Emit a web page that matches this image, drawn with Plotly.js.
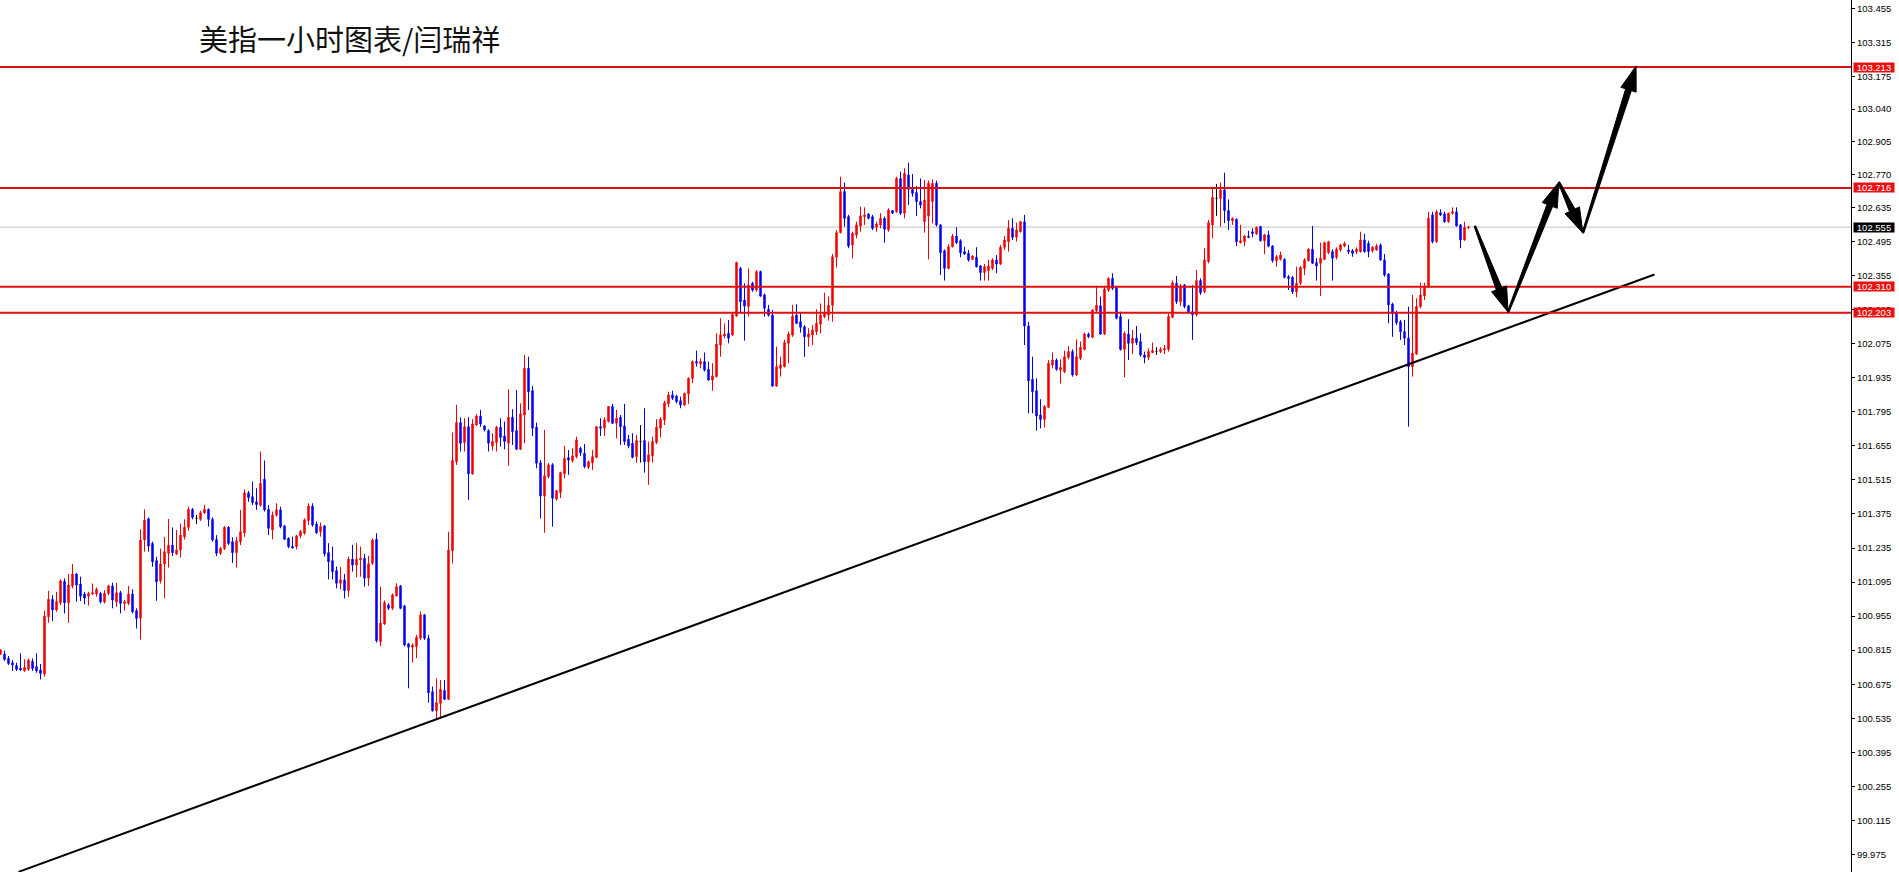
<!DOCTYPE html>
<html><head><meta charset="utf-8">
<script src="https://cdn.plot.ly/plotly-3.0.1.min.js"></script>
<style>html,body{margin:0;padding:0;background:#fff;overflow:hidden}#chart{width:1899px;height:872px}</style>
</head><body><div id="chart"></div>
<script>
const openP = [
100.799,100.799,100.781,100.763,100.752,100.741,100.730,100.736,100.769,100.747,
100.733,100.717,100.952,101.024,100.980,101.010,101.098,101.010,101.079,101.128,
101.087,101.046,101.037,101.046,101.046,101.048,101.013,101.048,101.079,101.013,
101.051,101.007,101.007,101.046,100.977,100.946,101.268,101.355,101.254,101.183,
101.100,101.169,101.213,101.247,101.210,101.227,101.281,101.320,101.394,101.357,
101.353,101.380,101.394,101.353,101.270,101.213,101.233,101.320,101.261,101.216,
101.261,101.298,101.462,101.446,101.425,101.411,101.518,101.394,101.309,101.370,
101.392,101.326,101.275,101.241,101.241,101.285,101.296,101.348,101.408,101.334,
101.303,101.326,101.216,101.183,101.142,101.090,101.104,101.060,101.189,101.165,
101.186,101.193,101.111,101.172,101.271,100.850,100.923,101.001,100.987,101.038,
101.079,100.997,100.841,100.827,100.830,100.864,100.960,100.864,100.644,100.566,
100.596,100.649,100.613,101.224,101.590,101.751,101.669,101.734,101.540,101.741,
101.778,101.737,101.718,101.655,101.669,101.732,101.696,101.666,101.773,101.718,
101.641,101.782,101.974,101.882,101.732,101.586,101.449,101.529,101.577,101.436,
101.463,101.540,101.607,101.595,101.611,101.645,101.625,101.567,101.586,101.608,
101.734,101.728,101.755,101.817,101.748,101.773,101.737,101.682,101.666,101.611,
101.673,101.677,101.590,101.614,101.669,101.728,101.762,101.828,101.865,101.860,
101.841,101.823,101.869,101.933,102.002,101.992,102.002,101.970,101.926,101.940,
102.070,102.107,102.118,102.111,102.189,102.385,102.255,102.228,102.324,102.296,
102.372,102.276,102.217,102.193,101.901,101.974,101.981,102.077,102.111,102.193,
102.166,102.145,102.102,102.111,102.125,102.156,102.187,102.193,102.234,102.431,
102.532,102.701,102.598,102.481,102.522,102.559,102.598,102.609,102.598,102.554,
102.564,102.591,102.543,102.623,102.618,102.755,102.612,102.769,102.710,102.697,
102.660,102.577,102.600,102.660,102.735,102.564,102.458,102.385,102.474,102.518,
102.499,102.454,102.447,102.422,102.431,102.395,102.368,102.376,102.385,102.420,
102.403,102.472,102.495,102.550,102.513,102.536,102.577,102.148,101.929,101.882,
101.782,101.764,101.814,101.988,102.008,101.967,101.960,102.019,102.043,101.947,
102.015,102.052,102.115,102.102,102.211,102.231,102.115,102.296,102.344,102.307,
102.187,102.052,102.115,102.077,102.098,102.084,102.029,102.019,102.039,102.043,
102.043,102.050,102.052,102.184,102.324,102.248,102.317,102.231,102.207,102.194,
102.335,102.289,102.413,102.564,102.673,102.673,102.708,102.623,102.582,102.587,
102.491,102.495,102.518,102.536,102.527,102.557,102.499,102.523,102.477,102.417,
102.422,102.422,102.351,102.348,102.289,102.324,102.385,102.417,102.464,102.409,
102.406,102.422,102.450,102.454,102.431,102.461,102.477,102.461,102.458,102.454,
102.454,102.502,102.488,102.458,102.461,102.481,102.420,102.362,102.239,102.203,
102.166,102.125,102.098,101.981,102.033,102.228,102.272,102.310,102.605,102.495,
102.614,102.609,102.577,102.612,102.618,102.564,102.502,102.553
];
const highP = [
100.818,100.813,100.791,100.774,100.763,100.802,100.777,100.781,100.781,100.802,
100.758,100.977,101.059,101.041,101.055,101.106,101.110,101.128,101.169,101.133,
101.117,101.055,101.055,101.089,101.072,101.055,101.062,101.084,101.092,101.092,
101.059,101.021,101.079,101.065,100.987,101.312,101.394,101.361,101.261,101.199,
101.233,101.281,101.355,101.320,101.309,101.336,101.353,101.405,101.399,101.371,
101.388,101.413,101.398,101.361,101.288,101.240,101.325,101.325,101.279,101.281,
101.391,101.476,101.470,101.508,101.481,101.632,101.595,101.412,101.385,101.419,
101.405,101.330,101.279,101.282,101.289,101.309,101.357,101.419,101.419,101.344,
101.340,101.330,101.255,101.241,101.159,101.156,101.128,101.200,101.248,101.255,
101.241,101.211,101.203,101.275,101.296,101.076,101.019,101.008,101.049,101.090,
101.083,101.001,100.843,100.843,100.878,100.974,100.964,100.878,100.665,100.699,
100.692,100.692,101.302,101.710,101.824,101.773,101.769,101.773,101.765,101.787,
101.803,101.741,101.723,101.707,101.737,101.769,101.755,101.888,101.806,101.885,
101.830,102.029,102.022,101.902,101.751,101.597,101.721,101.584,101.584,101.474,
101.549,101.655,101.638,101.645,101.693,101.652,101.663,101.595,101.638,101.737,
101.769,101.773,101.819,101.828,101.803,101.782,101.828,101.700,101.707,101.700,
101.741,101.810,101.673,101.693,101.765,101.773,101.841,101.878,101.882,101.865,
101.858,101.874,101.937,102.006,102.047,102.015,102.039,102.002,101.995,102.118,
102.180,102.159,102.173,102.200,102.413,102.392,102.324,102.385,102.330,102.378,
102.376,102.282,102.235,102.214,102.063,102.022,102.091,102.125,102.235,102.238,
102.200,102.152,102.139,102.152,102.217,102.241,102.285,102.269,102.444,102.543,
102.762,102.738,102.605,102.536,102.577,102.639,102.636,102.612,102.605,102.577,
102.612,102.598,102.632,102.625,102.762,102.783,102.797,102.820,102.773,102.724,
102.755,102.749,102.746,102.751,102.746,102.568,102.463,102.485,102.527,102.554,
102.505,102.474,102.461,102.440,102.472,102.399,102.403,102.420,102.427,102.440,
102.481,102.518,102.584,102.591,102.573,102.580,102.605,102.166,102.022,101.933,
101.847,101.823,102.008,102.039,102.015,102.011,102.047,102.066,102.052,102.093,
102.084,102.121,102.121,102.217,102.313,102.269,102.313,102.348,102.365,102.313,
102.207,102.125,102.176,102.132,102.148,102.118,102.043,102.056,102.080,102.061,
102.061,102.070,102.198,102.335,102.354,102.321,102.321,102.235,102.317,102.379,
102.344,102.468,102.584,102.721,102.732,102.738,102.779,102.669,102.595,102.591,
102.564,102.523,102.540,102.550,102.557,102.560,102.527,102.540,102.481,102.440,
102.454,102.427,102.358,102.354,102.392,102.395,102.427,102.468,102.560,102.427,
102.491,102.495,102.499,102.464,102.472,102.486,102.495,102.481,102.464,102.472,
102.536,102.527,102.499,102.477,102.486,102.488,102.444,102.365,102.244,102.211,
102.173,102.173,102.228,102.276,102.262,102.326,102.326,102.618,102.618,102.625,
102.628,102.618,102.614,102.636,102.636,102.568,102.577,102.557
];
const lowP = [
100.795,100.771,100.754,100.729,100.729,100.729,100.726,100.730,100.729,100.722,
100.695,100.706,100.928,100.935,100.973,101.000,100.966,100.928,101.069,101.014,
101.017,101.004,100.998,101.041,101.035,101.007,101.007,101.041,100.987,100.993,
100.966,100.977,101.000,100.966,100.904,100.859,101.220,101.220,101.158,101.018,
101.089,101.028,101.155,101.202,101.206,101.196,101.270,101.306,101.353,101.334,
101.347,101.375,101.323,101.261,101.202,101.206,101.227,101.247,101.174,101.155,
101.247,101.281,101.425,101.412,101.392,101.405,101.385,101.289,101.271,101.364,
101.316,101.268,101.234,101.234,101.230,101.275,101.289,101.330,101.323,101.293,
101.282,101.200,101.106,101.106,101.069,101.065,101.028,101.035,101.138,101.115,
101.117,101.076,101.079,101.165,100.846,100.832,100.919,100.980,100.980,101.035,
100.983,100.830,100.658,100.764,100.782,100.857,100.857,100.599,100.562,100.528,
100.535,100.610,100.610,101.172,101.577,101.632,101.632,101.433,101.536,101.737,
101.734,101.714,101.632,101.636,101.632,101.652,101.641,101.573,101.659,101.638,
101.638,101.666,101.803,101.696,101.563,101.357,101.298,101.522,101.323,101.430,
101.440,101.522,101.536,101.586,101.604,101.614,101.563,101.559,101.556,101.604,
101.696,101.696,101.751,101.745,101.686,101.659,101.659,101.645,101.604,101.586,
101.586,101.545,101.495,101.586,101.663,101.690,101.741,101.814,101.844,101.830,
101.810,101.819,101.828,101.913,101.981,101.974,101.961,101.924,101.882,101.937,
102.022,102.098,102.077,102.107,102.187,102.200,102.088,102.187,102.289,102.289,
102.269,102.187,102.187,101.899,101.899,101.940,101.978,101.995,102.104,102.156,
102.121,102.022,102.063,102.070,102.111,102.118,102.180,102.170,102.166,102.389,
102.529,102.557,102.468,102.426,102.509,102.536,102.564,102.587,102.543,102.536,
102.550,102.491,102.536,102.609,102.614,102.605,102.591,102.646,102.680,102.601,
102.632,102.532,102.422,102.570,102.557,102.358,102.335,102.381,102.472,102.485,
102.431,102.440,102.413,102.420,102.389,102.335,102.335,102.335,102.379,102.365,
102.399,102.461,102.454,102.502,102.495,102.532,102.070,101.789,101.789,101.718,
101.727,101.731,101.810,101.974,101.964,101.912,101.954,102.011,101.940,101.943,
102.008,102.047,102.098,102.098,102.203,102.111,102.111,102.289,102.296,102.176,
102.047,101.937,102.008,102.033,102.070,102.022,101.995,102.008,102.036,102.029,
102.036,102.033,102.043,102.180,102.239,102.231,102.221,102.198,102.091,102.187,
102.276,102.283,102.406,102.509,102.601,102.557,102.571,102.543,102.564,102.477,
102.488,102.477,102.509,102.513,102.523,102.495,102.444,102.472,102.409,102.392,
102.417,102.344,102.296,102.280,102.266,102.317,102.358,102.413,102.403,102.335,
102.272,102.420,102.444,102.335,102.422,102.454,102.472,102.444,102.433,102.444,
102.450,102.450,102.431,102.450,102.458,102.417,102.351,102.159,102.104,102.152,
102.091,102.070,101.734,101.940,102.029,102.221,102.255,102.303,102.488,102.491,
102.601,102.573,102.573,102.605,102.557,102.468,102.499,102.546
];
const closeP = [
100.815,100.777,100.760,100.754,100.736,100.734,100.744,100.774,100.740,100.730,
100.719,100.955,101.024,100.980,101.015,101.100,101.010,101.083,101.128,101.083,
101.037,101.029,101.048,101.051,101.065,101.014,101.048,101.079,101.021,101.051,
101.007,101.014,101.046,100.973,100.946,101.268,101.350,101.243,101.179,101.096,
101.169,101.220,101.247,101.216,101.227,101.288,101.320,101.394,101.361,101.357,
101.380,101.394,101.353,101.268,101.213,101.233,101.320,101.254,101.216,101.265,
101.302,101.462,101.443,101.422,101.414,101.501,101.392,101.316,101.371,101.392,
101.323,101.271,101.241,101.235,101.285,101.303,101.351,101.408,101.330,101.298,
101.323,101.211,101.179,101.138,101.090,101.104,101.060,101.189,101.165,101.189,
101.193,101.111,101.170,101.268,100.854,100.926,101.011,100.987,101.042,101.076,
100.987,100.836,100.827,100.836,100.868,100.960,100.864,100.640,100.566,100.599,
100.654,100.613,101.227,101.595,101.751,101.666,101.734,101.540,101.745,101.778,
101.745,101.721,101.666,101.673,101.732,101.690,101.673,101.773,101.714,101.641,
101.787,101.974,101.878,101.728,101.584,101.449,101.532,101.577,101.440,101.471,
101.545,101.604,101.597,101.614,101.680,101.627,101.570,101.590,101.611,101.734,
101.728,101.762,101.817,101.748,101.769,101.734,101.673,101.655,101.608,101.677,
101.673,101.590,101.618,101.673,101.732,101.765,101.833,101.865,101.851,101.837,
101.823,101.871,101.933,102.002,101.995,102.002,101.967,101.926,101.943,102.074,
102.111,102.115,102.098,102.196,102.409,102.248,102.230,102.317,102.296,102.372,
102.271,102.221,102.193,101.901,101.981,101.988,102.080,102.115,102.189,102.159,
102.143,102.104,102.115,102.132,102.159,102.193,102.200,102.234,102.433,102.532,
102.701,102.591,102.477,102.529,102.564,102.601,102.605,102.591,102.550,102.568,
102.591,102.546,102.625,102.612,102.755,102.612,102.776,102.710,102.694,102.660,
102.646,102.666,102.735,102.735,102.564,102.450,102.385,102.474,102.518,102.491,
102.450,102.444,102.420,102.436,102.392,102.368,102.392,102.395,102.420,102.403,
102.472,102.502,102.550,102.513,102.543,102.577,102.148,101.923,101.878,101.778,
101.764,101.817,101.995,102.008,101.970,101.978,102.022,102.043,101.947,102.022,
102.060,102.115,102.104,102.214,102.234,102.115,102.299,102.344,102.303,102.180,
102.052,102.118,102.077,102.098,102.080,102.029,102.019,102.043,102.047,102.043,
102.052,102.056,102.187,102.326,102.248,102.313,102.228,102.207,102.194,102.335,
102.285,102.420,102.573,102.677,102.673,102.708,102.623,102.582,102.591,102.495,
102.499,102.518,102.513,102.529,102.554,102.499,102.523,102.477,102.417,102.433,
102.440,102.348,102.344,102.289,102.324,102.389,102.420,102.464,102.406,102.395,
102.427,102.491,102.495,102.427,102.464,102.481,102.488,102.454,102.447,102.464,
102.502,102.454,102.454,102.472,102.477,102.420,102.358,102.235,102.198,102.162,
102.125,102.098,101.981,102.036,102.228,102.276,102.313,102.591,102.495,102.618,
102.605,102.577,102.612,102.618,102.560,102.502,102.554,102.556
];
const levelLines = [103.213, 102.716, 102.310, 102.203];
const levelLabels = ['103.213', '102.716', '102.310', '102.203'];
const currentPrice = 102.555;
const currentLabel = '102.555';
const tickLabels = ['103.455','103.315','103.175','103.040','102.905','102.770','102.635','102.495','102.355','102.215','102.075','101.935','101.795','101.655','101.515','101.375','101.235','101.095','100.955','100.815','100.675','100.535','100.395','100.255','100.115','99.975'];
const trendX = [4.5, 413.5];
const trendY = [99.903, 102.360];
const arrowX = [368.6, 376.9, 389.6, 395.6, 408.9];
const arrowY = [102.559, 102.205, 102.740, 102.531, 103.218];
const titleText = '美指一小时图表/闫瑞祥';

const W = 1899, H = 872, M = {l: 0, r: 48, t: 0, b: 0};
const PW = W - M.l - M.r, PH = H - M.t - M.b;
const XR = [-0.125, (PW - 0.5) / 4];
const YR = [99.9025, 103.489];

const idx = openP.map((_, i) => i);
const isDoji = i => openP[i] === closeP[i];
const nd = idx.filter(i => !isDoji(i));
const dj = idx.filter(i => isDoji(i));
const pick = (arr, ii) => ii.map(i => arr[i]);

const traces = [{
  type: 'candlestick', x: nd, open: pick(openP, nd), high: pick(highP, nd), low: pick(lowP, nd), close: pick(closeP, nd),
  increasing: {line: {color: '#f00000', width: 1}, fillcolor: '#f00000'},
  decreasing: {line: {color: '#0000f0', width: 1}, fillcolor: '#0000f0'},
  whiskerwidth: 0, hoverinfo: 'skip', showlegend: false
}, {
  type: 'candlestick', x: dj, open: pick(openP, dj), high: pick(highP, dj), low: pick(lowP, dj), close: pick(closeP, dj),
  increasing: {line: {color: '#000000', width: 1}, fillcolor: '#000000'},
  decreasing: {line: {color: '#000000', width: 1}, fillcolor: '#000000'},
  whiskerwidth: 0, hoverinfo: 'skip', showlegend: false
}, {
  type: 'scatter', mode: 'lines', x: trendX, y: trendY, line: {color: '#000', width: 2}, hoverinfo: 'skip', showlegend: false
}];

const toPx = (x, y) => [(x - XR[0]) / (XR[1] - XR[0]) * PW, (YR[1] - y) / (YR[1] - YR[0]) * PH];
const toData = (px, py) => [XR[0] + px / PW * (XR[1] - XR[0]), YR[1] - py / PH * (YR[1] - YR[0])];

const shapes = [];
levelLines.forEach(v => shapes.push({type: 'line', xref: 'paper', x0: 0, x1: 1, yref: 'y', y0: v, y1: v, line: {color: '#dd1010', width: 2}}));
shapes.push({type: 'line', xref: 'paper', x0: 0, x1: 1, yref: 'y', y0: currentPrice, y1: currentPrice, line: {color: '#c0c0c0', width: 1}, layer: 'below'});

for (let s = 0; s < arrowX.length - 1; s++) {
  const A = toPx(arrowX[s], arrowY[s]), B = toPx(arrowX[s + 1], arrowY[s + 1]);
  const dx = B[0] - A[0], dy = B[1] - A[1], len = Math.hypot(dx, dy);
  const ux = dx / len, uy = dy / len, nx = -uy, ny = ux;
  const L = 25, hw = 8, tw0 = 0.8, tw1 = 3;
  const Hb = [B[0] - ux * L, B[1] - uy * L];
  const pts = [
    [A[0] + nx * tw0, A[1] + ny * tw0], [Hb[0] + nx * tw1, Hb[1] + ny * tw1], [Hb[0] + nx * hw, Hb[1] + ny * hw], B,
    [Hb[0] - nx * hw, Hb[1] - ny * hw], [Hb[0] - nx * tw1, Hb[1] - ny * tw1], [A[0] - nx * tw0, A[1] - ny * tw0]
  ].map(p => toData(p[0], p[1]));
  const path = 'M ' + pts.map(p => p[0].toFixed(4) + ',' + p[1].toFixed(5)).join(' L ') + ' Z';
  shapes.push({type: 'path', xref: 'x', yref: 'y', path: path, fillcolor: '#000', line: {color: '#000', width: 1}});
}

const annotations = [];
levelLines.forEach((v, i) => annotations.push({
  xref: 'paper', x: 1, xanchor: 'left', xshift: 2, yref: 'y', y: v, yanchor: 'middle', text: levelLabels[i], showarrow: false,
  bgcolor: '#e81010', font: {family: 'Liberation Sans, Arial', size: 9.5, color: '#fff'}, width: 40, height: 9, borderpad: 0, align: 'center'
}));
annotations.push({
  xref: 'paper', x: 1, xanchor: 'left', xshift: 2, yref: 'y', y: currentPrice, yanchor: 'middle', text: currentLabel, showarrow: false,
  bgcolor: '#000', font: {family: 'Liberation Sans, Arial', size: 9.5, color: '#fff'}, width: 40, height: 9, borderpad: 0, align: 'center'
});
annotations.push({
  xref: 'paper', x: 197 / PW, xanchor: 'left', yref: 'paper', y: 1 - 38 / PH, yanchor: 'middle', text: titleText, showarrow: false,
  font: {family: 'Noto Sans CJK SC', size: 29, color: '#111'}
});

const layout = {
  width: W, height: H, margin: M, paper_bgcolor: '#fff', plot_bgcolor: '#fff', showlegend: false,
  boxgap: 0.5,
  xaxis: {range: XR, visible: false, rangeslider: {visible: false}, fixedrange: true},
  yaxis: {range: YR, side: 'right', showgrid: false, zeroline: false, showline: true, linecolor: '#000', linewidth: 1,
    ticks: 'outside', ticklen: 3, tickcolor: '#000', tickwidth: 1,
    tickvals: tickLabels.map(Number), ticktext: tickLabels,
    tickfont: {family: 'Liberation Sans, Arial', size: 9.5, color: '#000'}, fixedrange: true},
  shapes: shapes, annotations: annotations
};
Plotly.newPlot('chart', traces, layout, {staticPlot: true, displayModeBar: false});
</script>
</body></html>
